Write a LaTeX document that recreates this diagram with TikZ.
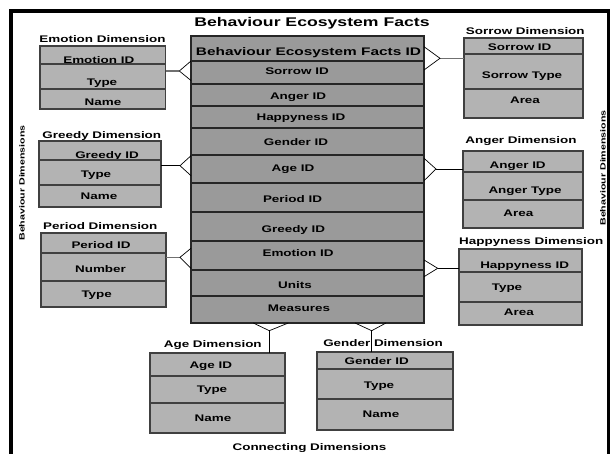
\documentclass[tikz,border=0pt]{standalone}
\usepackage{fontspec}
\newfontfamily\dfont{Liberation Sans}[FakeStretch=1.4]
\usetikzlibrary{calc}

\definecolor{dimfill}{HTML}{B3B3B3}
\definecolor{factfill}{HTML}{9A9A9A}
\definecolor{edgegray}{HTML}{404040}
\definecolor{linkgray}{HTML}{707070}

\tikzset{
  rowbox/.style={draw=edgegray, line width=1.1pt, inner sep=0pt, outer sep=0pt, anchor=north west},
  dimrow/.style={rowbox, fill=dimfill},
  factrow/.style={rowbox, fill=factfill, draw=black!85},
  celltext/.style={font=\dfont\bfseries\fontsize{9.6}{11}\selectfont, inner sep=0pt, anchor=base},
  headtext/.style={font=\dfont\bfseries\fontsize{11}{13}\selectfont, inner sep=0pt, anchor=base},
  titletext/.style={font=\dfont\bfseries\fontsize{12.6}{14}\selectfont, inner sep=0pt, anchor=base},
  sidetext/.style={font=\dfont\bfseries\fontsize{7.6}{9}\selectfont, inner sep=0pt, rotate=90},
  link/.style={draw=black, line width=0.8pt},
  softlink/.style={draw=linkgray, line width=1.3pt},
  crowfoot/.style={draw=black, line width=0.7pt},
  frameline/.style={draw=black, line cap=rect},
}

% one table row: name, style, x1, y1, x2, y2, text x, text cap-centre y, text
\newcommand\tabrow[9]{%
  \node[#2, minimum width={#5-#3}, minimum height={#6-#4}] (#1) at (#3,#4) {};
  \node[celltext] (#1-t) at (#7,{#8+3.4}) {#9};
}

\begin{document}
\begin{tikzpicture}[x=1pt, y=-1pt]
\useasboundingbox (0,0) rectangle (610,454);
\clip (0,0) rectangle (610,454);

% outer frame
\draw[frameline, line width=4pt] (11,470) -- (11,11) -- (608,11);
\draw[frameline, line width=3pt] (608.5,11) -- (608.5,470);

% titles
\node[titletext] (title) at (312,26.2) {Behaviour Ecosystem Facts};
\node[celltext] (bottomtitle) at (309.5,450.5) {Connecting Dimensions};
\node[sidetext] (leftside) at (22,183) {Behaviour Dimensions};
\node[sidetext] (rightside) at (603,168) {Behaviour Dimensions};

% fact table
\node[factrow, minimum width=233, minimum height=25] (fhead) at (191,36) {};
\node[headtext] (fhead-t) at (308.5,55.6) {Behaviour Ecosystem Facts ID};
\tabrow{f1}{factrow}{191}{61}{424}{84}{297}{71}{Sorrow ID}
\tabrow{f2}{factrow}{191}{84}{424}{106}{298}{96}{Anger ID}
\tabrow{f3}{factrow}{191}{106}{424}{128}{301}{116.7}{Happyness ID}
\tabrow{f4}{factrow}{191}{128}{424}{155}{296}{141.7}{Gender ID}
\tabrow{f5}{factrow}{191}{155}{424}{183}{293}{168.3}{Age ID}
\tabrow{f6}{factrow}{191}{183}{424}{212}{292.5}{199}{Period ID}
\tabrow{f7}{factrow}{191}{212}{424}{241}{293.4}{229}{Greedy ID}
\tabrow{f8}{factrow}{191}{241}{424}{270}{298}{253}{Emotion ID}
\tabrow{f9}{factrow}{191}{270}{424}{296}{295}{285}{Units}
\tabrow{f10}{factrow}{191}{296}{424}{323}{299}{308}{Measures}

% emotion dimension
\node[celltext] (emo-l) at (102.5,42.7) {Emotion Dimension};
\tabrow{emo1}{dimrow}{40}{46}{165.7}{64}{98.8}{59.7}{Emotion ID}
\tabrow{emo2}{dimrow}{40}{64}{165.7}{89}{102}{82}{Type}
\tabrow{emo3}{dimrow}{40}{89}{165.7}{109}{103}{102.5}{Name}

% greedy dimension
\node[celltext] (gre-l) at (101.8,138.3) {Greedy Dimension};
\tabrow{gre1}{dimrow}{39}{141}{161}{160}{107}{155}{Greedy ID}
\tabrow{gre2}{dimrow}{39}{160}{161}{185}{96}{174}{Type}
\tabrow{gre3}{dimrow}{39}{185}{161}{207}{99}{196}{Name}

% period dimension
\node[celltext] (per-l) at (100.3,229.3) {Period Dimension};
\tabrow{per1}{dimrow}{41}{233}{166}{253}{101}{245}{Period ID}
\tabrow{per2}{dimrow}{41}{253}{166}{281}{100.5}{269}{Number}
\tabrow{per3}{dimrow}{41}{281}{166}{307}{96.7}{294}{Type}

% sorrow dimension
\node[celltext] (sor-l) at (525.3,34.3) {Sorrow Dimension};
\tabrow{sor1}{dimrow}{464}{38}{583}{54}{519.7}{46.7}{Sorrow ID}
\tabrow{sor2}{dimrow}{464}{54}{583}{89}{522}{75}{Sorrow Type}
\tabrow{sor3}{dimrow}{464}{89}{583}{118}{525}{100}{Area}

% anger dimension
\node[celltext] (ang-l) at (521,143.3) {Anger Dimension};
\tabrow{ang1}{dimrow}{463}{151}{583}{172}{517.7}{165}{Anger ID}
\tabrow{ang2}{dimrow}{463}{172}{583}{200}{525}{190}{Anger Type}
\tabrow{ang3}{dimrow}{463}{200}{583}{228}{518.3}{213}{Area}

% happyness dimension
\node[celltext] (hap-l) at (531.3,244.5) {Happyness Dimension};
\tabrow{hap1}{dimrow}{459}{249}{582}{272}{524.7}{265}{Happyness ID}
\tabrow{hap2}{dimrow}{459}{272}{582}{302}{507}{286.7}{Type}
\tabrow{hap3}{dimrow}{459}{302}{582}{325}{518.8}{311.7}{Area}

% age dimension
\node[celltext] (age-l) at (212.8,347.7) {Age Dimension};
\tabrow{age1}{dimrow}{150}{353}{285}{376}{210.8}{365}{Age ID}
\tabrow{age2}{dimrow}{150}{376}{285}{403}{212}{389}{Type}
\tabrow{age3}{dimrow}{150}{403}{285}{433}{213}{418}{Name}

% gender dimension
\node[celltext] (gen-l) at (383,346.7) {Gender Dimension};
\tabrow{gen1}{dimrow}{317}{352}{453}{369}{376.7}{361}{Gender ID}
\tabrow{gen2}{dimrow}{317}{369}{453}{399}{379}{385}{Type}
\tabrow{gen3}{dimrow}{317}{399}{453}{430}{381}{414.5}{Name}

% crow's foot apexes
\coordinate (cEmo) at (179.3,71);
\coordinate (cGre) at (180,165.7);
\coordinate (cPer) at (180,257.3);
\coordinate (cSor) at (440,58.3);
\coordinate (cAng) at (436,169);
\coordinate (cHap) at (437.7,268.3);
\coordinate (cAge) at (269.3,330.7);
\coordinate (cGen) at (371.7,330.7);

% connectors, dimension to apex
\draw[softlink] (emo2.east |- cEmo) -- (cEmo);
\draw[link] (gre2.east |- cGre) -- (cGre);
\draw[softlink] (per2.east |- cPer) -- (cPer);
\draw[softlink] (sor2.west |- cSor) -- (cSor);
\draw[link] (ang1.west |- cAng) -- (cAng);
\draw[link] (hap1.west |- cHap) -- (cHap);
\draw[link] (age1.north -| cAge) -- (cAge);
\draw[link] (gen1.north -| cGen) -- (cGen);

% crow's feet on the fact table
\draw[crowfoot] ($(f1.west |- cEmo)+(0,-10)$) -- (cEmo) -- ($(f1.west |- cEmo)+(0,9.5)$);
\draw[crowfoot] ($(f5.west |- cGre)+(0,-10)$) -- (cGre) -- ($(f5.west |- cGre)+(0,10)$);
\draw[crowfoot] ($(f8.west |- cPer)+(0,-9)$) -- (cPer) -- ($(f8.west |- cPer)+(0,11)$);
\draw[crowfoot] ($(f1.east |- cSor)+(0,-11.6)$) -- (cSor) -- ($(f1.east |- cSor)+(0,11.7)$);
\draw[crowfoot] ($(f5.east |- cAng)+(0,-10.7)$) -- (cAng) -- ($(f5.east |- cAng)+(0,11.7)$);
\draw[crowfoot] ($(f9.east |- cHap)+(0,-8.3)$) -- (cHap) -- ($(f9.east |- cHap)+(0,8.4)$);
\draw[crowfoot] (f10.south -| 253.3,0) -- (cAge) -- (f10.south -| 288.3,0);
\draw[crowfoot] (f10.south -| 355,0) -- (cGen) -- (f10.south -| 386,0);
\end{tikzpicture}
\end{document}
